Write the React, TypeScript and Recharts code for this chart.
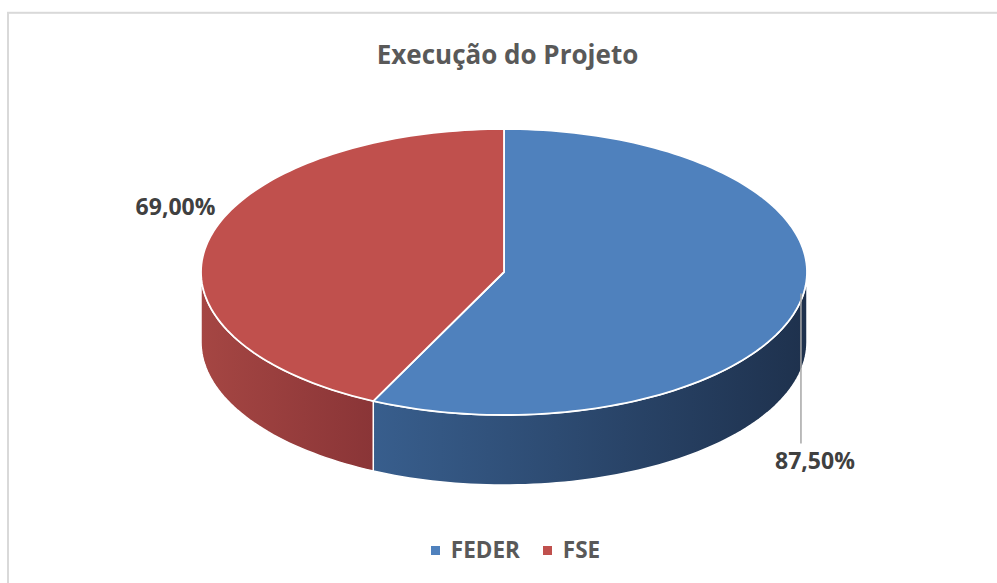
import React from 'react';
import { PieChart, Pie, Cell, Legend } from 'recharts';

const categories = ['FEDER', 'FSE'];
const seriesValues = [87.5, 69.0];
const valueLabels = ['87,50%', '69,00%'];

const topColors = ['#4f81bd', '#c0504d'];
const sideColors = [
  ['#385e8d', '#1e314d'],
  ['#a54643', '#8a3537'],
];

const TILT = 0.472; // vertical squash of the top ellipse
const DEPTH = 70; // thickness of the pie
const WARP = 11.8; // perspective angle warp (degrees)
const RAD = Math.PI / 180;
const FONT = "'Open Sans', 'Noto Sans', sans-serif";

const data = categories.map((name, i) => ({ name, value: seriesValues[i], label: valueLabels[i] }));

// recharts angle (ccw from 3 o'clock) -> clockwise from 12 o'clock, with perspective warp
const toPhi = (a: number) => {
  const phi = 90 - a;
  return phi - WARP * Math.sin(phi * RAD);
};

const pt = (cx: number, cy: number, rx: number, ry: number, phi: number, dy = 0): [number, number] => [
  cx + rx * Math.sin(phi * RAD),
  cy - ry * Math.cos(phi * RAD) + dy,
];

const arcPoints = (cx: number, cy: number, rx: number, ry: number, a: number, b: number, dy = 0) => {
  const n = Math.max(2, Math.ceil(Math.abs(b - a) / 1.5));
  const res: [number, number][] = [];
  for (let i = 0; i <= n; i++) res.push(pt(cx, cy, rx, ry, a + ((b - a) * i) / n, dy));
  return res;
};

const Slice3D = (props: any) => {
  const { cx, cy, outerRadius, startAngle, endAngle, index } = props;
  const rx = outerRadius;
  const ry = outerRadius * TILT;
  const s = toPhi(startAngle);
  const e = toPhi(endAngle);
  const top = arcPoints(cx, cy, rx, ry, s, e);
  const topD = `M${cx},${cy} ` + top.map((p) => `L${p[0]},${p[1]}`).join(' ') + ' Z';
  const vs = Math.max(s, 90);
  const ve = Math.min(e, 270);
  let side: React.ReactNode = null;
  if (ve > vs) {
    const up = arcPoints(cx, cy, rx, ry, vs, ve);
    const down = arcPoints(cx, cy, rx, ry, ve, vs, DEPTH);
    const d = 'M' + up.concat(down).map((p) => `${p[0]},${p[1]}`).join(' L') + ' Z';
    const xs = up.map((p) => p[0]);
    const x1 = Math.min(...xs);
    const x2 = Math.max(...xs);
    const gid = `side-grad-${index}`;
    const [c1, c2] = sideColors[index];
    side = (
      <g>
        <defs>
          <linearGradient id={gid} gradientUnits="userSpaceOnUse" x1={x1} y1={0} x2={x2} y2={0}>
            <stop offset="0%" stopColor={c1} />
            <stop offset="100%" stopColor={c2} />
          </linearGradient>
        </defs>
        <path d={d} fill={`url(#${gid})`} stroke="#ffffff" strokeWidth={1.5} strokeLinejoin="round" />
      </g>
    );
  }
  return (
    <g>
      {side}
      <path d={topD} fill={topColors[index]} stroke="#ffffff" strokeWidth={1.8} strokeLinejoin="round" />
    </g>
  );
};

const renderLabel = (props: any) => {
  const { cx, cy, outerRadius, midAngle, index } = props;
  const rx = outerRadius;
  const ry = outerRadius * TILT;
  const phi = toPhi(midAngle);
  const [px, py] = pt(cx, cy, rx, ry, phi);
  const text = data[index].label;
  if (px > cx) {
    return (
      <g>
        <line x1={px - 6} y1={py + 24} x2={px - 6} y2={py + 174} stroke="#a6a6a6" strokeWidth={1.5} />
        <text x={px + 8} y={py + 199} textAnchor="middle" fill="#404040" fontFamily={FONT} fontWeight={700} fontSize={23}>
          {text}
        </text>
      </g>
    );
  }
  return (
    <text x={px - 48} y={py - 3} textAnchor="middle" fill="#404040" fontFamily={FONT} fontWeight={700} fontSize={23}>
      {text}
    </text>
  );
};

const renderLegend = (props: any) => {
  const { payload } = props;
  return (
    <div
      style={{
        display: 'flex',
        justifyContent: 'center',
        alignItems: 'center',
        gap: 23,
        paddingLeft: 34,
        fontFamily: FONT,
      }}
    >
      {(payload || []).map((entry: any, i: number) => (
        <div key={i} style={{ display: 'flex', alignItems: 'center', gap: 11 }}>
          <span style={{ display: 'inline-block', width: 9, height: 9, background: entry.color }} />
          <span style={{ fontWeight: 700, fontSize: 22.5, color: '#595959', lineHeight: '30px' }}>{entry.value}</span>
        </div>
      ))}
    </div>
  );
};

export default function App() {
  return (
    <div style={{ position: 'absolute', left: 0, top: 0, width: 997, height: 583 }}>
      <PieChart width={997} height={583} margin={{ top: 0, right: 0, bottom: 0, left: 0 }}>
        <rect x={8} y={12.8} width={1000} height={600} fill="none" stroke="#d9d9d9" strokeWidth={2} />
        <text x={507.5} y={63.5} textAnchor="middle" fill="#595959" fontFamily={FONT} fontWeight={700} fontSize={26}>
          Execução do Projeto
        </text>
        <Pie
          data={data}
          dataKey="value"
          nameKey="name"
          cx={504}
          cy={272}
          outerRadius={303}
          startAngle={90}
          endAngle={-270}
          shape={Slice3D}
          label={renderLabel}
          labelLine={false}
          isAnimationActive={false}
        >
          {data.map((d, i) => (
            <Cell key={d.name} fill={topColors[i]} />
          ))}
        </Pie>
        <Legend
          content={renderLegend}
          wrapperStyle={{ position: 'absolute', top: 535, left: 0, width: 997, height: 30 }}
        />
      </PieChart>
    </div>
  );
}
